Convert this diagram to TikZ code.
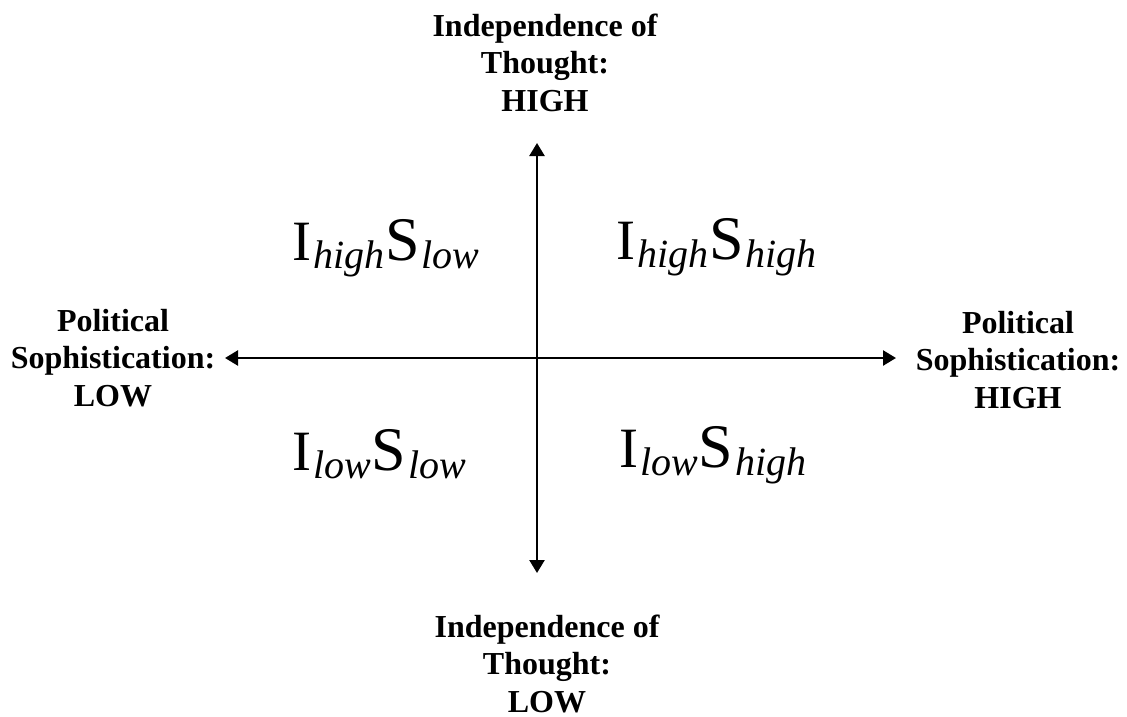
\documentclass[tikz,border=0pt]{standalone}
\usepackage{fontspec}
\setmainfont{Liberation Serif}
\usetikzlibrary{arrows.meta}
\newcommand{\quadlab}[2]{\fontsize{57}{60}\selectfont I\kern2pt\raisebox{-8pt}{\fontsize{40}{44}\selectfont\itshape #1}\kern1pt{\fontsize{62}{64}\selectfont S}\kern2pt\raisebox{-8pt}{\fontsize{40}{44}\selectfont\itshape #2}}
\tikzset{
  axislabel/.style={font=\fontsize{32}{37.5}\selectfont\bfseries, align=center, inner sep=0pt, anchor=base},
  quadrant/.style={inner sep=0pt, anchor=base west},
  axisline/.style={line width=2.5pt, {Triangle[length=13pt,width=15pt]}-{Triangle[length=13pt,width=15pt]}}
}
\begin{document}
\begin{tikzpicture}[x=1pt,y=-1pt]
\useasboundingbox (0,0) rectangle (1127,717);
\coordinate (top) at (537,143);
\coordinate (bot) at (537,573);
\coordinate (left) at (225,358);
\coordinate (right) at (896,358);
\draw[axisline] (bot) -- (top);
\draw[axisline] (left) -- (right);
\node[axislabel] (tlab) at (545,111) {Independence of\\Thought:\\HIGH};
\node[axislabel] (blab) at (547,712) {Independence of\\Thought:\\LOW};
\node[axislabel] (llab) at (113,406) {Political\\Sophistication:\\LOW};
\node[axislabel] (rlab) at (1018,408) {Political\\Sophistication:\\HIGH};
\node[quadrant] (q1) at (292,260) {\quadlab{high}{low}};
\node[quadrant] (q2) at (616,259) {\quadlab{high}{high}};
\node[quadrant] (q3) at (292,470) {\quadlab{low}{low}};
\node[quadrant] (q4) at (619,467) {\quadlab{low}{high}};
\end{tikzpicture}
\end{document}
